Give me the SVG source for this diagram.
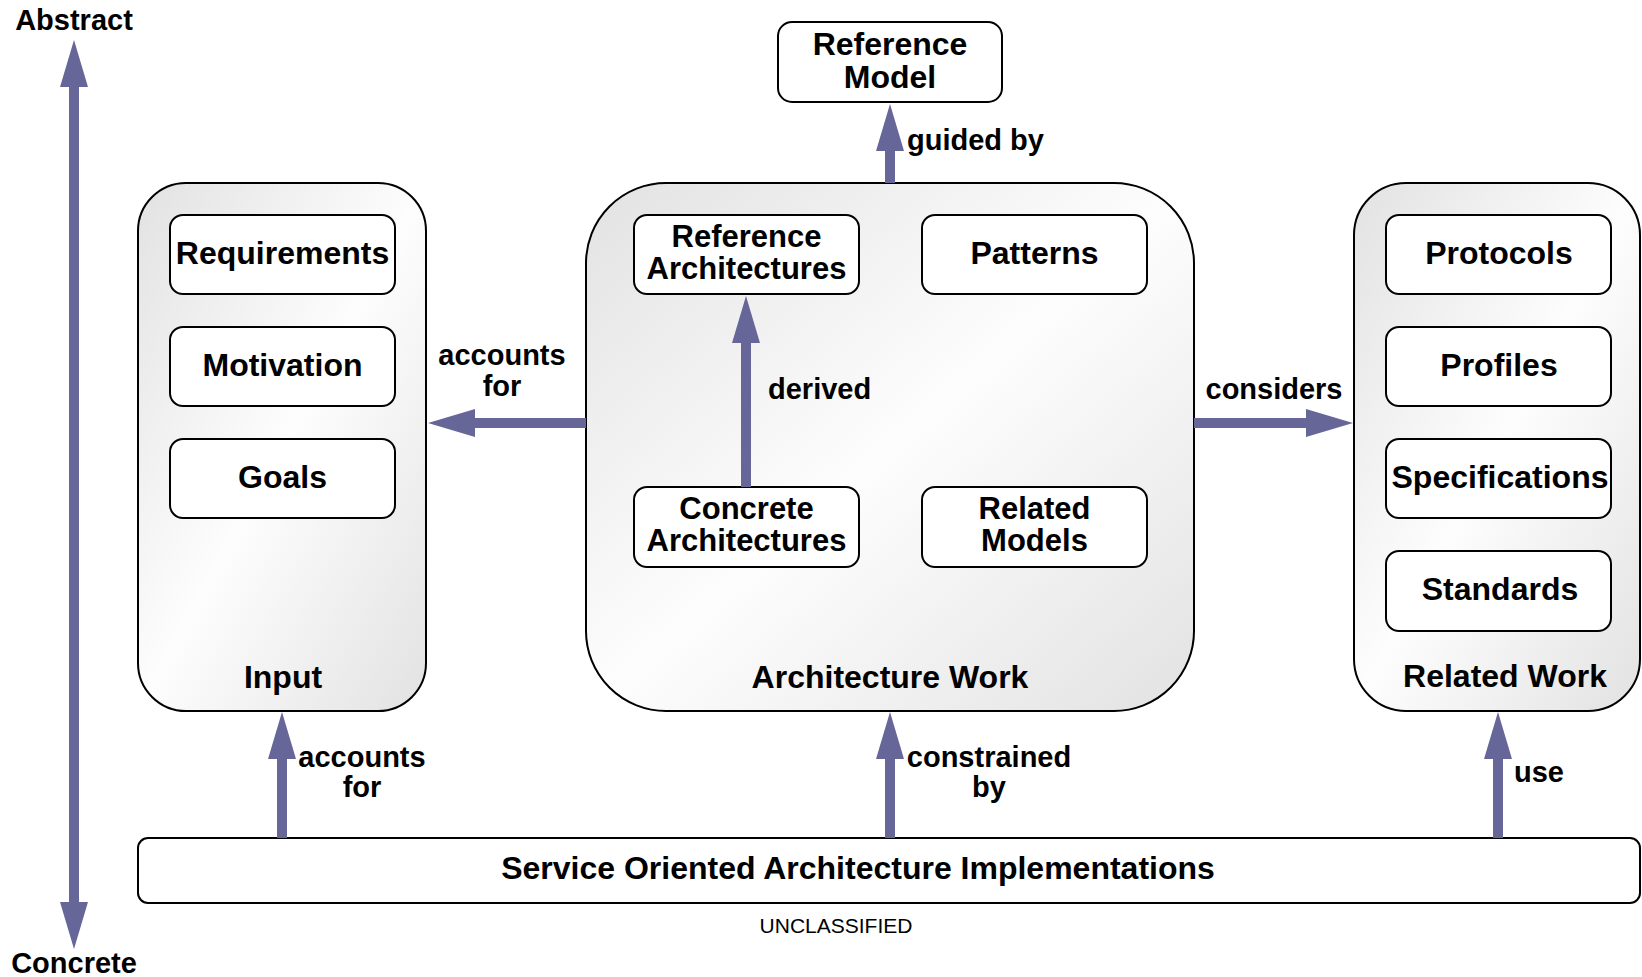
<svg xmlns="http://www.w3.org/2000/svg" width="1642" height="977" viewBox="0 0 1642 977">
<style>
.cont{stroke:#000;stroke-width:2;fill:url(#grad)}
.box{stroke:#000;stroke-width:2;fill:#fff}
.nt{font-family:"Liberation Sans",Arial,sans-serif;font-weight:bold;font-size:32px;fill:#000;text-anchor:middle}
.n2{font-size:31px}
.lt{font-family:"Liberation Sans",Arial,sans-serif;font-weight:bold;font-size:29px;fill:#000}
.mid{text-anchor:middle}
.conn{stroke:#666699;stroke-width:10;fill:none}
.uc{font-family:"Liberation Sans",Arial,sans-serif;font-size:21px;fill:#000;text-anchor:middle}
</style>
<defs>
<linearGradient id="grad" x1="0" y1="0" x2="1" y2="1">
<stop offset="0" stop-color="#e2e2e2"/>
<stop offset="0.5" stop-color="#fdfdfd"/>
<stop offset="1" stop-color="#e2e2e2"/>
</linearGradient>
<marker id="ah" markerUnits="userSpaceOnUse" markerWidth="48" markerHeight="28" viewBox="0 0 48 28" refX="1" refY="14" orient="auto-start-reverse">
<path d="M0,0 L47,14 L0,28 z" fill="#666699"/>
</marker>
</defs>
<rect width="1642" height="977" fill="#fff"/>

<g id="input">
<rect class="cont" x="138" y="183" width="288" height="528" rx="48" ry="48"/>
<text class="nt" x="283" y="688">Input</text>
</g>
<g id="requirements">
<rect class="box" x="170" y="215" width="225" height="79" rx="13"/>
<text class="nt" x="282.5" y="263.5">Requirements</text>
</g>
<g id="motivation">
<rect class="box" x="170" y="327" width="225" height="79" rx="13"/>
<text class="nt" x="282.5" y="375.5">Motivation</text>
</g>
<g id="goals">
<rect class="box" x="170" y="439" width="225" height="79" rx="13"/>
<text class="nt" x="282.5" y="487.5">Goals</text>
</g>

<g id="architecture-work">
<rect class="cont" x="586" y="183" width="608" height="528" rx="80" ry="80"/>
<text class="nt" x="890" y="688">Architecture Work</text>
</g>
<g id="reference-architectures">
<rect class="box" x="634" y="215" width="225" height="79" rx="13"/>
<text class="nt n2" x="746.5" y="247"><tspan x="746.5">Reference</tspan><tspan x="746.5" y="279">Architectures</tspan></text>
</g>
<g id="patterns">
<rect class="box" x="922" y="215" width="225" height="79" rx="13"/>
<text class="nt" x="1034.5" y="263.5">Patterns</text>
</g>
<g id="concrete-architectures">
<rect class="box" x="634" y="487" width="225" height="80" rx="13"/>
<text class="nt n2" x="746.5" y="519"><tspan x="746.5">Concrete</tspan><tspan x="746.5" y="551">Architectures</tspan></text>
</g>
<g id="related-models">
<rect class="box" x="922" y="487" width="225" height="80" rx="13"/>
<text class="nt n2" x="1034.5" y="519"><tspan x="1034.5">Related</tspan><tspan x="1034.5" y="551">Models</tspan></text>
</g>

<g id="related-work">
<rect class="cont" x="1354" y="183" width="286" height="528" rx="52" ry="52"/>
<text class="nt" x="1505" y="687">Related Work</text>
</g>
<g id="protocols">
<rect class="box" x="1386" y="215" width="225" height="79" rx="13"/>
<text class="nt" x="1499" y="263.5">Protocols</text>
</g>
<g id="profiles">
<rect class="box" x="1386" y="327" width="225" height="79" rx="13"/>
<text class="nt" x="1499" y="375.5">Profiles</text>
</g>
<g id="specifications">
<rect class="box" x="1386" y="439" width="225" height="79" rx="13"/>
<text class="nt" x="1500" y="487.5">Specifications</text>
</g>
<g id="standards">
<rect class="box" x="1386" y="551" width="225" height="80" rx="13"/>
<text class="nt" x="1500" y="599.5">Standards</text>
</g>

<g id="reference-model">
<rect class="box" x="778" y="22" width="224" height="80" rx="14"/>
<text class="nt" x="890" y="55"><tspan x="890">Reference</tspan><tspan x="890" y="88">Model</tspan></text>
</g>

<g id="soa-implementations">
<rect class="box" x="138" y="838" width="1502" height="65" rx="10"/>
<text class="nt" x="858" y="879">Service Oriented Architecture Implementations</text>
</g>

<g id="axis-labels">
<text class="lt mid" x="74" y="30">Abstract</text>
<text class="lt mid" x="74" y="973">Concrete</text>
<text class="uc" x="836" y="933">UNCLASSIFIED</text>
</g>

<g id="connectors">
<line class="conn" x1="74" y1="86" x2="74" y2="903" marker-start="url(#ah)" marker-end="url(#ah)"/>
<line class="conn" x1="890" y1="183" x2="890" y2="150" marker-end="url(#ah)"/>
<line class="conn" x1="586" y1="423" x2="474" y2="423" marker-end="url(#ah)"/>
<line class="conn" x1="746" y1="487" x2="746" y2="342" marker-end="url(#ah)"/>
<line class="conn" x1="1194" y1="423" x2="1307" y2="423" marker-end="url(#ah)"/>
<line class="conn" x1="282" y1="838" x2="282" y2="758" marker-end="url(#ah)"/>
<line class="conn" x1="890" y1="838" x2="890" y2="758" marker-end="url(#ah)"/>
<line class="conn" x1="1498" y1="838" x2="1498" y2="758" marker-end="url(#ah)"/>
<text class="lt" x="907" y="150">guided by</text>
<text class="lt mid" x="502" y="365"><tspan x="502">accounts</tspan><tspan x="502" y="396">for</tspan></text>
<text class="lt" x="768" y="399">derived</text>
<text class="lt mid" x="1274" y="399">considers</text>
<text class="lt mid" x="362" y="767"><tspan x="362">accounts</tspan><tspan x="362" y="797">for</tspan></text>
<text class="lt mid" x="989" y="767"><tspan x="989">constrained</tspan><tspan x="989" y="797">by</tspan></text>
<text class="lt" x="1514" y="782">use</text>
</g>
</svg>
